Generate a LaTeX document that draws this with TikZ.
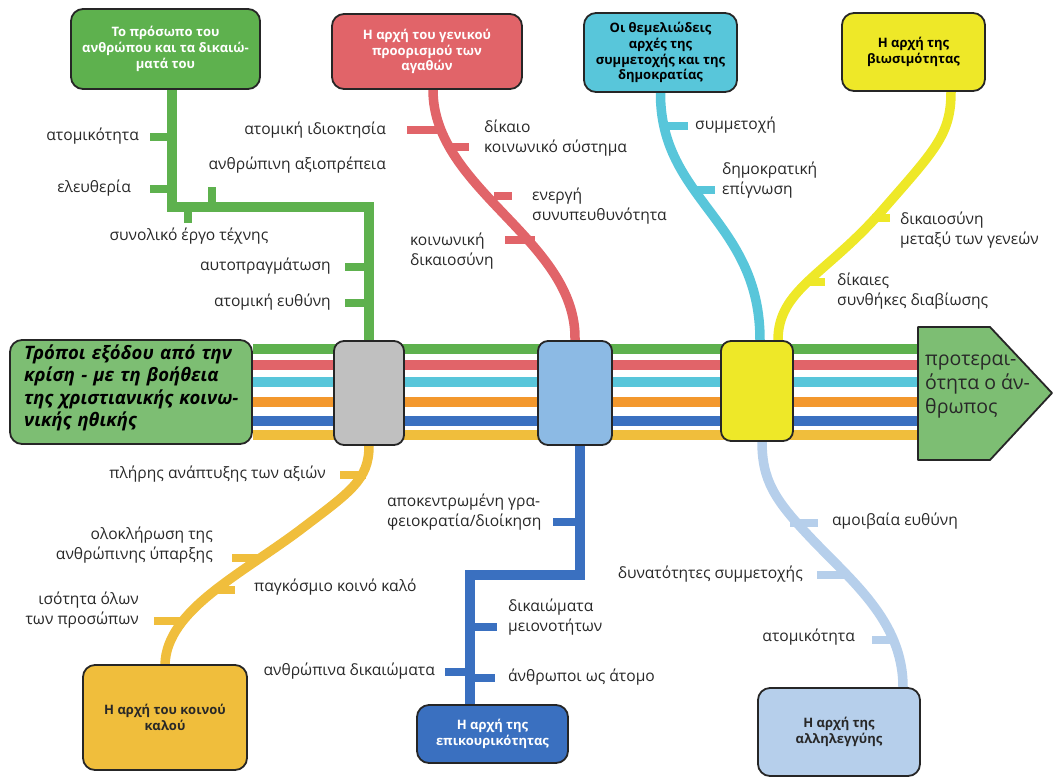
\documentclass[tikz,border=0pt]{standalone}
\usepackage{fontspec}
\setmainfont{Open Sans}
\pgfdeclarelayer{bg}
\pgfsetlayers{bg,main}
\definecolor{bord}{RGB}{38,38,38}
\definecolor{txt}{RGB}{40,40,40}
\definecolor{greenD}{RGB}{94,177,78}
\definecolor{greenL}{RGB}{125,190,115}
\definecolor{redC}{RGB}{225,100,105}
\definecolor{cyanC}{RGB}{88,198,218}
\definecolor{yellowB}{RGB}{238,232,40}
\definecolor{goldC}{RGB}{240,190,60}
\definecolor{orangeC}{RGB}{243,152,45}
\definecolor{blueC}{RGB}{58,112,192}
\definecolor{lblueC}{RGB}{182,207,235}
\definecolor{jblue}{RGB}{140,186,228}
\definecolor{greyC}{RGB}{192,192,192}
\begin{document}
\begin{tikzpicture}[x=1pt,y=-1pt,
  box/.style={draw=bord, line width=1.8pt, rounded corners=12pt, align=center,
    font=\bfseries\fontsize{13}{15.8}\selectfont, inner sep=2pt},
  junc/.style={draw=bord, line width=1.8pt, rounded corners=10pt, inner sep=0pt},
  lbl/.style={font=\fontsize{15.6}{19.5}\selectfont, text=txt, inner sep=0pt},
  lbla/.style={lbl, text height=10.5pt, text depth=3pt},
  bar/.style={line width=9.5pt},
  br/.style={line width=9.5pt},
  tk/.style={line width=8pt},
]
\useasboundingbox (0,0) rectangle (1063,780);

% top boxes
\node[box, fill=greenD, text=white, minimum width=189pt, minimum height=80pt] (gbox) at (165.5,49)
  {Το πρόσωπο του\\ανθρώπου και τα δικαιώ-\\ματά του};
\node[box, fill=redC, text=white, minimum width=190pt, minimum height=75pt] (rbox) at (427,51.5)
  {Η αρχή του γενικού\\προορισμού των\\αγαθών};
\node[box, fill=cyanC, text=black, minimum width=153pt, minimum height=79pt] (cbox) at (660.5,52.5)
  {Οι θεμελιώδεις\\αρχές της\\συμμετοχής και της\\δημοκρατίας};
\node[box, fill=yellowB, text=black, minimum width=143pt, minimum height=78pt] (ybox) at (913.5,52)
  {Η αρχή της\\βιωσιμότητας};

% title box
\node[draw=bord, line width=1.8pt, rounded corners=12pt, fill=greenL, minimum width=242pt,
  minimum height=104pt, inner sep=0pt] (title) at (131,392) {};
\node[anchor=west, text width=225pt, align=left, inner sep=0pt,
  font=\bfseries\itshape\fontsize{18.5}{22.5}\selectfont] (titletxt) at (24,388)
  {Τρόποι εξόδου από την\\κρίση - με τη βοήθεια\\της χριστιανικής κοινω-\\νικής ηθικής};

% junction boxes
\node[junc, fill=greyC, minimum width=70pt, minimum height=104pt] (gj) at (369,393) {};
\node[junc, fill=jblue, minimum width=74pt, minimum height=104pt] (bj) at (575,393) {};
\node[junc, fill=yellowB, minimum width=72pt, minimum height=100pt] (yj) at (757,391) {};

% arrow
\coordinate (arrL) at (918,393);
\draw[draw=bord, line width=1.8pt, fill=greenL, line join=round]
  (918,327) -- (990,327) -- (1052,393) -- (990,460) -- (918,460) -- cycle;
\node[lbl, anchor=west, align=left, font=\fontsize{19.5}{24}\selectfont] (arrtxt) at (925,387)
  {προτεραι-\\ότητα ο άν-\\θρωπος};

% bottom boxes
\node[box, fill=goldC, text=txt, minimum width=164pt, minimum height=105pt] (goldbox) at (165,717.5)
  {Η αρχή του κοινού\\καλού};
\node[box, fill=blueC, text=white, minimum width=151pt, minimum height=58pt] (bluebox) at (492.5,734)
  {Η αρχή της\\επικουρικότητας};
\node[box, fill=lblueC, text=txt, minimum width=162pt, minimum height=88pt] (lbox) at (839,732)
  {Η αρχή της\\αλληλεγγύης};

\begin{pgfonlayer}{bg}
% main bars
\foreach \c/\yy in {greenD/349, redC/365, cyanC/382, orangeC/402, blueC/421, goldC/435}
  \draw[bar,\c] (title.east |- 0,\yy) -- (arrL |- 0,\yy);

% green branch
\draw[br,greenD] ([xshift=6.5pt]gbox.south) |- (369,207) -- (gj.north);
\draw[tk,greenD] (150,137) -- (172,137);
\draw[tk,greenD] (150,189) -- (172,189);
\draw[tk,greenD] (212,187) -- (212,207);
\draw[tk,greenD] (188,207) -- (188,223);
\draw[tk,greenD] (345,267) -- (369,267);
\draw[tk,greenD] (345,303) -- (369,303);

% red branch
\draw[br,redC] ([xshift=6pt]rbox.south) .. controls (433,190) and (577,240) .. (bj.north);
\draw[tk,redC] (407,130) -- (442,130);
\draw[tk,redC] (446,147) -- (469,147);
\draw[tk,redC] (494,196) -- (512,196);
\draw[tk,redC] (505,240) -- (535,240);

% cyan branch
\draw[br,cyanC] (cbox.south) .. controls (660,200) and (760,220) .. ([xshift=3pt]yj.north);
\draw[tk,cyanC] (665,126) -- (688,126);
\draw[tk,cyanC] (695,190) -- (715,190);

% yellow branch
\draw[br,yellowB] ([xshift=37.5pt]ybox.south) .. controls (951,135) and (935,150) .. (880,213)
  .. controls (825,275) and (778,290) .. ([xshift=21pt]yj.north);
\draw[tk,yellowB] (872,218) -- (890,218);
\draw[tk,yellowB] (805,282) -- (825,282);

% gold branch
\draw[br,goldC] (gj.south) .. controls (369,480) and (350,492) .. (300,530)
  .. controls (240,575) and (167,610) .. (goldbox.north);
\draw[tk,goldC] (340,475) -- (366,475);
\draw[tk,goldC] (232,558) -- (262,558);
\draw[tk,goldC] (215,590) -- (235,590);
\draw[tk,goldC] (154,621) -- (184,621);

% blue branch
\coordinate (bturn) at (470,575);
\draw[br,blueC] ([xshift=5pt]bj.south) |- (bturn) -- (bturn |- bluebox.north);
\draw[tk,blueC] (553,522) -- (580,522);
\draw[tk,blueC] (470,627) -- (497,627);
\draw[tk,blueC] (445,672) -- (470,672);
\draw[tk,blueC] (470,678) -- (495,678);

% light blue branch
\draw[br,lblueC] ([xshift=5pt]yj.south) .. controls (762,480) and (775,500) .. (808,535)
  .. controls (850,580) and (903,620) .. ([xshift=64pt]lbox.north);
\draw[tk,lblueC] (790,523) -- (818,523);
\draw[tk,lblueC] (817,575) -- (845,575);
\draw[tk,lblueC] (872,640) -- (896,640);
\end{pgfonlayer}

% labels green
\node[lbla, anchor=east] (g1) at (139,137) {ατομικότητα};
\node[lbla, anchor=east] (g2) at (131,189) {ελευθερία};
\node[lbla, anchor=east] (g3) at (386,166) {ανθρώπινη αξιοπρέπεια};
\node[lbla] (g4) at (189,237) {συνολικό έργο τέχνης};
\node[lbla, anchor=east] (g5) at (331,267) {αυτοπραγμάτωση};
\node[lbla, anchor=east] (g6) at (331,303) {ατομική ευθύνη};
% labels red
\node[lbla, anchor=east] (r1) at (386,131) {ατομική ιδιοκτησία};
\node[lbl, anchor=west, align=left] (r2) at (484,138) {δίκαιο\\κοινωνικό σύστημα};
\node[lbl, anchor=west, align=left] (r3) at (532,206) {ενεργή\\συνυπευθυνότητα};
\node[lbl, anchor=west, align=left] (r4) at (410,251) {κοινωνική\\δικαιοσύνη};
% labels cyan
\node[lbla, anchor=west] (c1) at (695,126) {συμμετοχή};
\node[lbl, anchor=west, align=left] (c2) at (722,180) {δημοκρατική\\επίγνωση};
% labels yellow
\node[lbl, anchor=west, align=left] (y1) at (900,230) {δικαιοσύνη\\μεταξύ των γενεών};
\node[lbl, anchor=west, align=left] (y2) at (837,291) {δίκαιες\\συνθήκες διαβίωσης};
% labels gold
\node[lbla, anchor=east] (o1) at (326,475) {πλήρης ανάπτυξης των αξιών};
\node[lbl, anchor=east, align=right] (o2) at (213,545) {ολοκλήρωση της\\ανθρώπινης ύπαρξης};
\node[lbla, anchor=west] (o3) at (254,588) {παγκόσμιο κοινό καλό};
\node[lbl, anchor=east, align=right] (o4) at (139,610) {ισότητα όλων\\των προσώπων};
% labels blue
\node[lbl, anchor=west, align=left] (b1) at (387,512) {αποκεντρωμένη γρα-\\φειοκρατία/διοίκηση};
\node[lbl, anchor=west, align=left] (b2) at (508,617) {δικαιώματα\\μειονοτήτων};
\node[lbla, anchor=east] (b3) at (435,672) {ανθρώπινα δικαιώματα};
\node[lbla, anchor=west] (b4) at (508,678) {άνθρωποι ως άτομο};
% labels light blue
\node[lbla, anchor=west] (l1) at (832,522) {αμοιβαία ευθύνη};
\node[lbla, anchor=east] (l2) at (803,575) {δυνατότητες συμμετοχής};
\node[lbla, anchor=east] (l3) at (855,638) {ατομικότητα};
\end{tikzpicture}
\end{document}
